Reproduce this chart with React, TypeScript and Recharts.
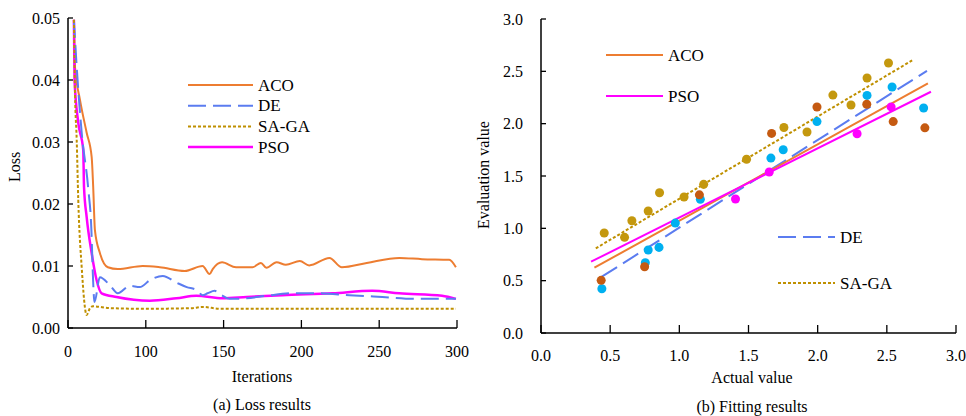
import React from 'react';
import { LineChart, ComposedChart, Line, Scatter, XAxis, YAxis, Legend } from 'recharts';

const FONT = '"Liberation Serif", "Times New Roman", serif';

// ---------- (a) Loss results ----------
const lossTicks = [0, 50, 100, 150, 200, 250];
const lossTickLabels = ['0', '100', '150', '200', '250', '300'];
const lossYTicks = [0, 0.01, 0.02, 0.03, 0.04, 0.05];

const acoLoss = [
  { x: 3.8, y: 0.0497 }, { x: 4.5, y: 0.0421 }, { x: 7.7, y: 0.0368 }, { x: 12.0, y: 0.0315 },
  { x: 15.2, y: 0.0276 }, { x: 16.2, y: 0.0227 }, { x: 17.3, y: 0.0158 }, { x: 20.5, y: 0.0121 },
  { x: 25.6, y: 0.0098 }, { x: 32, y: 0.0095 }, { x: 48, y: 0.0100 }, { x: 59, y: 0.0098 },
  { x: 75, y: 0.0092 }, { x: 86.5, y: 0.0100 }, { x: 91, y: 0.0087 }, { x: 93, y: 0.0095 },
  { x: 99, y: 0.0106 }, { x: 108, y: 0.0098 }, { x: 118.6, y: 0.0098 }, { x: 124, y: 0.0105 },
  { x: 127.5, y: 0.0097 }, { x: 134, y: 0.0106 }, { x: 140, y: 0.0102 }, { x: 149, y: 0.0108 },
  { x: 155, y: 0.0101 }, { x: 168, y: 0.0113 }, { x: 176, y: 0.0098 }, { x: 192, y: 0.0105 },
  { x: 213, y: 0.0113 }, { x: 227.5, y: 0.0111 }, { x: 245, y: 0.0110 }, { x: 249.3, y: 0.0098 },
];

const deLoss = [
  { x: 3.8, y: 0.0497 }, { x: 5.6, y: 0.0421 }, { x: 8.8, y: 0.0315 }, { x: 13, y: 0.0225 },
  { x: 15, y: 0.016 }, { x: 16, y: 0.0085 }, { x: 17, y: 0.0042 }, { x: 20.5, y: 0.0082 },
  { x: 26.9, y: 0.0069 }, { x: 32, y: 0.0056 }, { x: 39.7, y: 0.0068 }, { x: 46.2, y: 0.0066 },
  { x: 52.6, y: 0.0077 }, { x: 60.9, y: 0.0084 }, { x: 69.9, y: 0.0073 }, { x: 76.3, y: 0.0066 },
  { x: 82.7, y: 0.0061 }, { x: 86.5, y: 0.0053 }, { x: 89.7, y: 0.0056 }, { x: 94.2, y: 0.0060 },
  { x: 98.7, y: 0.0053 }, { x: 103.8, y: 0.0047 }, { x: 114.7, y: 0.0048 }, { x: 127.6, y: 0.0052 },
  { x: 144, y: 0.0056 }, { x: 159.6, y: 0.0056 }, { x: 180.8, y: 0.0053 }, { x: 202, y: 0.0050 },
  { x: 223.7, y: 0.0047 }, { x: 249.3, y: 0.0047 },
];

const sagaLoss = [
  { x: 3.8, y: 0.0497 }, { x: 4.5, y: 0.0379 }, { x: 5.6, y: 0.0303 }, { x: 6.6, y: 0.0206 },
  { x: 8.8, y: 0.0098 }, { x: 12, y: 0.0021 }, { x: 14.1, y: 0.0032 }, { x: 16, y: 0.0035 },
  { x: 27, y: 0.0032 }, { x: 48, y: 0.0031 }, { x: 80, y: 0.0032 }, { x: 86.5, y: 0.0034 },
  { x: 98, y: 0.0031 }, { x: 150, y: 0.0031 }, { x: 200, y: 0.0031 }, { x: 249.3, y: 0.0031 },
];

const psoLoss = [
  { x: 3.8, y: 0.0497 }, { x: 4.2, y: 0.0400 }, { x: 6.6, y: 0.0331 }, { x: 9.8, y: 0.0287 },
  { x: 10.3, y: 0.0227 }, { x: 12, y: 0.0179 }, { x: 15.2, y: 0.0121 }, { x: 18.4, y: 0.0077 },
  { x: 21.6, y: 0.0056 }, { x: 31.2, y: 0.0050 }, { x: 52.6, y: 0.0044 }, { x: 69.7, y: 0.0048 },
  { x: 82.5, y: 0.0052 }, { x: 99.4, y: 0.0048 }, { x: 114.7, y: 0.0050 }, { x: 137.8, y: 0.0053 },
  { x: 169.9, y: 0.0056 }, { x: 195.5, y: 0.0060 }, { x: 212.8, y: 0.0056 }, { x: 240.4, y: 0.0052 },
  { x: 249.3, y: 0.0047 },
];

// ---------- (b) Fitting results ----------
const fitTicks = [0, 0.5, 1.0, 1.5, 2.0, 2.5, 3.0];

const sagaPoints = [
  { x: 0.457, y: 0.955 }, { x: 0.604, y: 0.914 }, { x: 0.657, y: 1.073 }, { x: 0.775, y: 1.165 },
  { x: 0.857, y: 1.34 }, { x: 1.034, y: 1.30 }, { x: 1.176, y: 1.42 }, { x: 1.486, y: 1.66 },
  { x: 1.756, y: 1.964 }, { x: 1.923, y: 1.92 }, { x: 2.11, y: 2.273 }, { x: 2.241, y: 2.178 },
  { x: 2.357, y: 2.436 }, { x: 2.512, y: 2.58 },
];
const dePoints = [
  { x: 0.44, y: 0.423 }, { x: 0.754, y: 0.672 }, { x: 0.775, y: 0.793 }, { x: 0.853, y: 0.818 },
  { x: 0.971, y: 1.05 }, { x: 1.152, y: 1.277 }, { x: 1.662, y: 1.671 }, { x: 1.751, y: 1.751 },
  { x: 1.995, y: 2.02 }, { x: 2.357, y: 2.27 }, { x: 2.538, y: 2.35 }, { x: 2.766, y: 2.15 },
];
const acoPoints = [
  { x: 0.435, y: 0.503 }, { x: 0.749, y: 0.633 }, { x: 1.145, y: 1.32 }, { x: 1.667, y: 1.907 },
  { x: 1.995, y: 2.159 }, { x: 2.355, y: 2.185 }, { x: 2.546, y: 2.02 }, { x: 2.775, y: 1.96 },
];
const psoPoints = [
  { x: 1.406, y: 1.28 }, { x: 1.65, y: 1.538 }, { x: 2.285, y: 1.904 }, { x: 2.531, y: 2.16 },
];

const sagaFit = [{ x: 0.396, y: 0.809 }, { x: 2.69, y: 2.61 }];
const deFit = [{ x: 0.44, y: 0.538 }, { x: 2.79, y: 2.505 }];
const acoFit = [{ x: 0.386, y: 0.624 }, { x: 2.797, y: 2.385 }];
const psoFit = [{ x: 0.362, y: 0.681 }, { x: 2.819, y: 2.305 }];

// ---------- styles ----------
const C_ACO = '#ED7D31';
const C_DE = '#5B7CF0';
const C_SAGA = '#BF9000';
const C_PSO = '#FF00FF';
const P_SAGA = '#C4980E';
const P_DE = '#00B0F0';
const P_ACO = '#C55A11';
const P_PSO = '#FF00FF';

const DASH_DE = '18 7';
const DASH_SAGA = '3 2';

const tickStyle = { fill: '#000', fontSize: 16, fontFamily: FONT };

const lossLegend = [
  { name: 'ACO', color: C_ACO, dash: undefined, w: 2 },
  { name: 'DE', color: C_DE, dash: DASH_DE, w: 2 },
  { name: 'SA-GA', color: C_SAGA, dash: DASH_SAGA, w: 2 },
  { name: 'PSO', color: C_PSO, dash: undefined, w: 2.5 },
];

const LossLegend = () => (
  <svg width={480} height={180} style={{ display: 'block' }}>
    {lossLegend.map((e, i) => {
      const y = 85 + i * 20.7;
      return (
        <g key={e.name}>
          <line x1={188} x2={253} y1={y} y2={y} stroke={e.color} strokeWidth={e.w} strokeDasharray={e.dash} />
          <text x={258} y={y} dominantBaseline="central" fontSize={17} fontFamily={FONT} fill="#000">{e.name}</text>
        </g>
      );
    })}
  </svg>
);

const fitLegend = [
  { name: 'ACO', color: C_ACO, dash: undefined, x: 126, y: 55 },
  { name: 'PSO', color: C_PSO, dash: undefined, x: 126, y: 96 },
  { name: 'DE', color: C_DE, dash: DASH_DE, x: 298, y: 237 },
  { name: 'SA-GA', color: C_SAGA, dash: DASH_SAGA, x: 298, y: 283 },
];

const FitLegend = () => (
  <svg width={486} height={320} style={{ display: 'block' }}>
    {fitLegend.map((e) => (
      <g key={e.name}>
        <line x1={e.x} x2={e.x + 57} y1={e.y} y2={e.y} stroke={e.color} strokeWidth={2} strokeDasharray={e.dash} />
        <text x={e.x + 62} y={e.y} dominantBaseline="central" fontSize={17} fontFamily={FONT} fill="#000">{e.name}</text>
      </g>
    ))}
  </svg>
);

const Txt = ({ x, y, children, rotate }: { x: number; y: number; children: React.ReactNode; rotate?: boolean }) => (
  <div
    style={{
      position: 'absolute', left: x, top: y, transform: `translate(-50%, -50%)${rotate ? ' rotate(-90deg)' : ''}`,
      fontFamily: FONT, fontSize: 16, color: '#000', whiteSpace: 'nowrap', lineHeight: 1,
    }}
  >
    {children}
  </div>
);

export default function App() {
  return (
    <div style={{ position: 'absolute', left: 0, top: 0, width: 966, height: 416, background: '#fff', overflow: 'hidden' }}>
      <div style={{ position: 'absolute', left: 0, top: 0 }}>
        <LineChart width={480} height={416} margin={{ top: 18, right: 23, bottom: 58, left: 0 }}>
          <XAxis
            type="number" dataKey="x" domain={[0, 250]} ticks={lossTicks}
            tickFormatter={(v: number, i: number) => lossTickLabels[i] ?? String(v)}
            height={30} tickSize={-8} tickMargin={26} tick={tickStyle}
            axisLine={{ stroke: '#000', strokeWidth: 1.5 }} tickLine={{ stroke: '#000', strokeWidth: 1.3 }}
            allowDataOverflow interval={0}
          />
          <YAxis
            type="number" dataKey="y" domain={[0, 0.05]} ticks={lossYTicks}
            tickFormatter={(v: number) => v.toFixed(2)}
            width={68} tickSize={-5} tickMargin={13} tick={tickStyle}
            axisLine={{ stroke: '#000', strokeWidth: 1.5 }} tickLine={{ stroke: '#000', strokeWidth: 1.3 }}
            allowDataOverflow interval={0}
          />
          <Legend
            layout="horizontal" verticalAlign="middle" align="center"
            wrapperStyle={{ position: 'absolute', left: 0, top: 0, width: 480, height: 180 }}
            content={() => <LossLegend />}
          />
          <Line data={acoLoss} dataKey="y" type="monotone" stroke={C_ACO} strokeWidth={2} dot={false} isAnimationActive={false} name="ACO" />
          <Line data={psoLoss} dataKey="y" type="monotone" stroke={C_PSO} strokeWidth={2.5} dot={false} isAnimationActive={false} name="PSO" />
          <Line data={deLoss} dataKey="y" type="monotone" stroke={C_DE} strokeWidth={2} strokeDasharray={DASH_DE} dot={false} isAnimationActive={false} name="DE" />
          <Line data={sagaLoss} dataKey="y" type="monotone" stroke={C_SAGA} strokeWidth={2} strokeDasharray={DASH_SAGA} dot={false} isAnimationActive={false} name="SA-GA" />
        </LineChart>
      </div>
      <Txt x={15} y={167} rotate>Loss</Txt>
      <Txt x={262} y={377}>Iterations</Txt>
      <Txt x={262} y={405}>(a) Loss results</Txt>

      <div style={{ position: 'absolute', left: 480, top: 0 }}>
        <ComposedChart width={486} height={416} margin={{ top: 19, right: 10, bottom: 53, left: 0 }}>
          <XAxis
            type="number" dataKey="x" domain={[0, 3]} ticks={fitTicks}
            tickFormatter={(v: number) => v.toFixed(1)}
            height={30} tickSize={-8} tickMargin={25} tick={tickStyle}
            axisLine={{ stroke: '#000', strokeWidth: 1.5 }} tickLine={{ stroke: '#000', strokeWidth: 1.3 }}
            allowDataOverflow interval={0}
          />
          <YAxis
            type="number" dataKey="y" domain={[0, 3]} ticks={fitTicks}
            tickFormatter={(v: number) => v.toFixed(1)}
            width={61} tickSize={-5} tickMargin={23} tick={tickStyle}
            axisLine={{ stroke: '#000', strokeWidth: 1.5 }} tickLine={{ stroke: '#000', strokeWidth: 1.3 }}
            allowDataOverflow interval={0}
          />
          <Legend
            layout="horizontal" verticalAlign="middle" align="center"
            wrapperStyle={{ position: 'absolute', left: 0, top: 0, width: 486, height: 320 }}
            content={() => <FitLegend />}
          />
          <Scatter data={dePoints} fill={P_DE} isAnimationActive={false} name="DE points" />
          <Scatter data={acoPoints} fill={P_ACO} isAnimationActive={false} name="ACO points" />
          <Scatter data={sagaPoints} fill={P_SAGA} isAnimationActive={false} name="SA-GA points" />
          <Scatter data={psoPoints} fill={P_PSO} isAnimationActive={false} name="PSO points" />
          <Line data={sagaFit} dataKey="y" type="linear" stroke={C_SAGA} strokeWidth={2} strokeDasharray={DASH_SAGA} dot={false} isAnimationActive={false} name="SA-GA" />
          <Line data={deFit} dataKey="y" type="linear" stroke={C_DE} strokeWidth={2} strokeDasharray={DASH_DE} dot={false} isAnimationActive={false} name="DE" />
          <Line data={acoFit} dataKey="y" type="linear" stroke={C_ACO} strokeWidth={2} dot={false} isAnimationActive={false} name="ACO" />
          <Line data={psoFit} dataKey="y" type="linear" stroke={C_PSO} strokeWidth={2} dot={false} isAnimationActive={false} name="PSO" />
        </ComposedChart>
      </div>
      <Txt x={484} y={175} rotate>Evaluation value</Txt>
      <Txt x={752} y={378}>Actual value</Txt>
      <Txt x={752} y={407}>(b) Fitting results</Txt>
    </div>
  );
}
